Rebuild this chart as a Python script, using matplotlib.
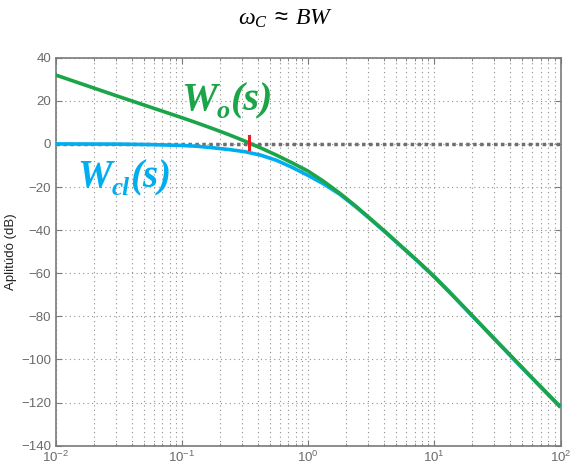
import numpy as np
import matplotlib
matplotlib.use('Agg')
from matplotlib import pyplot as plt
from matplotlib.transforms import IdentityTransform

plt.rcParams['font.family'] = ['Liberation Sans', 'DejaVu Sans']
plt.rcParams['mathtext.fontset'] = 'custom'
plt.rcParams['mathtext.rm'] = 'Liberation Sans'
plt.rcParams['mathtext.it'] = 'Liberation Serif:italic'

# frequencies as log10(w), magnitudes (dB)
log_w_open = [-2.0, -1.75, -1.5, -1.25, -1.0, -0.875, -0.75, -0.625, -0.5, -0.375,
              -0.25, -0.125, 0.0, 0.125, 0.25, 0.375, 0.5, 0.625, 0.75, 0.875,
              1.0, 1.125, 1.25, 1.5, 1.75, 2.0]
mag_open = [32.0, 27.0, 22.0, 17.1, 12.2, 9.65, 7.0, 4.25, 1.3, -1.85,
            -5.2, -8.8, -12.6, -17.4, -22.8, -28.7, -35.0, -41.4, -48.0, -54.6,
            -61.5, -68.9, -76.5, -91.8, -107.0, -122.0]

log_w_closed = [-2.0, -1.75, -1.5, -1.25, -1.0, -0.875, -0.75, -0.625, -0.5, -0.375,
                -0.25, -0.125, 0.0, 0.125, 0.25, 0.375, 0.5, 0.625, 0.75, 0.875,
                1.0, 1.125, 1.25, 1.5, 1.75, 2.0]
mag_closed = [0.0, -0.05, -0.1, -0.3, -0.7, -1.1, -1.8, -2.6, -3.6, -5.2,
              -7.6, -10.9, -14.6, -18.6, -23.3, -29.0, -35.2, -41.6, -48.2, -54.8,
              -61.7, -69.1, -76.7, -92.0, -107.2, -122.2]

w_cross = 0.343      # crossover frequency (red marker)
cross_span = [3.5, -2.5]

green = '#1ba548'
blue = '#00aeef'
red = '#ed1c24'
gray = '#7a7a7a'

w_open = 10 ** np.array(log_w_open)
w_closed = 10 ** np.array(log_w_closed)

fig = plt.figure(figsize=(5.72, 4.69), dpi=100)
ax = fig.add_axes([55.5 / 572, 1 - 445.7 / 469, 505 / 572, 388 / 469])

ax.set_xscale('log')
ax.set_xlim(1e-2, 1e2)
ax.set_ylim(-140, 40)
ax.set_yticks(np.arange(-140, 41, 20))

ax.grid(True, which='major', axis='both', linestyle=(0, (1, 3)), color='#909090', linewidth=0.8)
ax.grid(True, which='minor', axis='x', linestyle=(0, (1, 3)), color='#909090', linewidth=0.8)

ax.axhline(0, color='#6e6e6e', linewidth=2.5, linestyle=(0, (1, 1)), zorder=2)
ax.plot(w_closed, mag_closed, color=blue, linewidth=2.6, zorder=3, solid_capstyle='butt')
ax.plot(w_open, mag_open, color=green, linewidth=2.6, zorder=4, solid_capstyle='butt')
ax.plot([w_cross, w_cross], cross_span, color=red, linewidth=2.2, zorder=5)

for s in ax.spines.values():
    s.set_color(gray)
    s.set_linewidth(1.2)
ax.tick_params(which='both', direction='in', colors=gray, labelcolor='#6a6a6a',
               labelsize=9.5, top=True, right=True)
ax.tick_params(which='major', length=4, pad=3)
ax.tick_params(which='minor', length=2)

ax.set_ylabel('Aplitúdó (dB)', fontsize=9.5, color='#222222', labelpad=3)

fig.text(0.499, 1 - 25 / 469, r'$\omega_C\;\approx\;BW$', ha='center', va='baseline',
         fontsize=17)


# W_o(s) / W_cl(s): bold italic serif, subscript drawn as its own piece
def rich_label(x, y, parts, color):
    fig.canvas.draw()
    renderer = fig.canvas.get_renderer()
    px, py = ax.transData.transform((x, y))
    for txt, size, dy in parts:
        t = fig.text(px, py + dy, txt, transform=IdentityTransform(), color=color,
                     fontsize=size, family='Liberation Serif', weight='bold',
                     style='italic', va='baseline', ha='left')
        px += t.get_window_extent(renderer).width


rich_label(0.0986, 15.7, [('W', 29, 0), ('o', 19, -8), ('(s)', 29, 0)], green)
rich_label(0.0148, -20, [('W', 28, 0), ('cl', 18, -8), ('(s)', 28, 0)], blue)

fig.savefig('out.png', dpi=100)
